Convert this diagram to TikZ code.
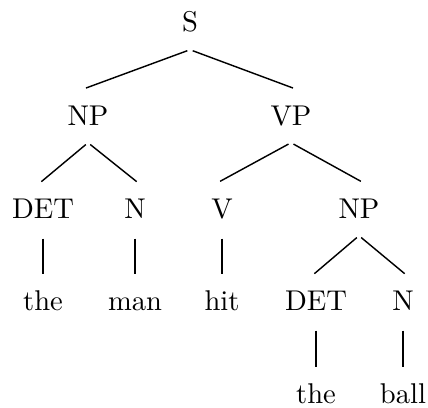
\documentclass[tikz,border=0pt]{standalone}
\usepackage{tikz}

\tikzset{
  cat/.style={inner xsep=0pt, inner ysep=6pt, text height=7pt, text depth=0pt},
  branch/.style={line width=0.5pt, shorten <=1pt, shorten >=-0.75pt}
}

\begin{document}
\begin{tikzpicture}[x=0.35pt, y=-0.35pt]
    \useasboundingbox (0,0) rectangle (428,407);

    % Root
    \node[cat] (s) at (190,22) {S};

    % Phrases
    \node[cat] (np) at (88,115) {NP};
    \node[cat] (vp) at (291,115) {VP};

    % Categories
    \node[cat] (det) at (43,208) {DET};
    \node[cat] (n) at (135,208) {N};
    \node[cat] (v) at (222,208) {V};
    \node[cat] (npobj) at (359,208) {NP};

    % Words and lower categories
    \node[cat] (the) at (43,300) {the};
    \node[cat] (man) at (135,300) {man};
    \node[cat] (hit) at (222,300) {hit};
    \node[cat] (detobj) at (316,300) {DET};
    \node[cat] (nobj) at (403,300) {N};

    % Object words
    \node[cat] (theobj) at (316,393) {the};
    \node[cat] (ball) at (403,393) {ball};

    % Branches
    \draw[branch] (s.south) -- (np.north);
    \draw[branch] (s.south) -- (vp.north);
    \draw[branch] (np.south) -- (det.north);
    \draw[branch] (np.south) -- (n.north);
    \draw[branch] (vp.south) -- (v.north);
    \draw[branch] (vp.south) -- (npobj.north);
    \draw[branch] (det.south) -- (the.north);
    \draw[branch] (n.south) -- (man.north);
    \draw[branch] (v.south) -- (hit.north);
    \draw[branch] (npobj.south) -- (detobj.north);
    \draw[branch] (npobj.south) -- (nobj.north);
    \draw[branch] (detobj.south) -- (theobj.north);
    \draw[branch] (nobj.south) -- (ball.north);
\end{tikzpicture}
\end{document}
